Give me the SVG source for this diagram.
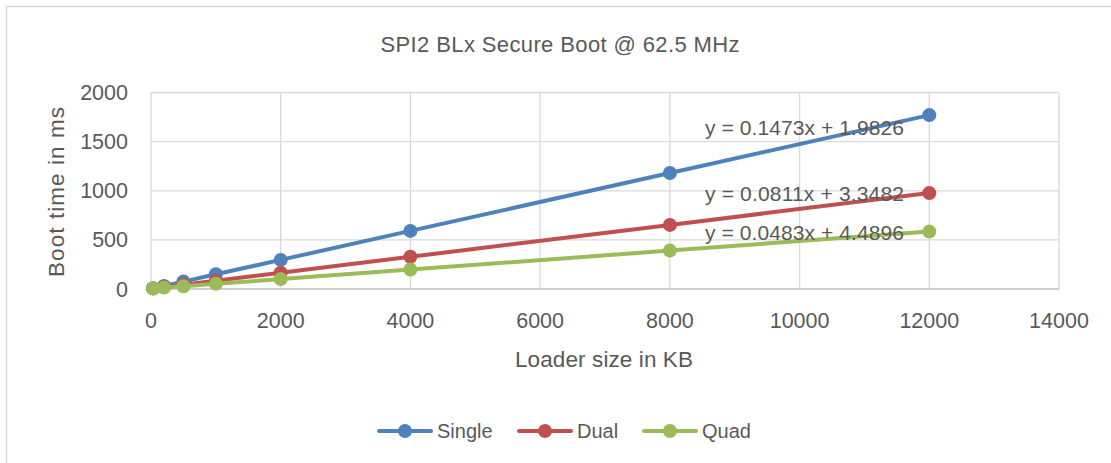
<svg xmlns="http://www.w3.org/2000/svg" width="1111" height="463" viewBox="0 0 1111 463">
  <style>
    .txt { font-family: "Liberation Sans", Arial, sans-serif; fill: #595959; }
    .tick { font-size: 21.5px; }
    .grid { stroke: #D9D9D9; stroke-width: 1.3; fill: none; }
    .axis { stroke: #BFBFBF; stroke-width: 1.5; fill: none; }
    .s-single { stroke: #4F81BD; fill: #4F81BD; }
    .s-dual { stroke: #C0504D; fill: #C0504D; }
    .s-quad { stroke: #9BBB59; fill: #9BBB59; }
    .line { stroke-width: 4; fill: none; stroke-linejoin: round; stroke-linecap: round; }
    .mk { stroke: none; }
  </style>
  <rect x="0" y="0" width="1111" height="463" fill="#FFFFFF"/>
  <!-- chart frame -->
  <rect x="6.5" y="6.5" width="1300" height="600" fill="none" stroke="#D9D9D9" stroke-width="1.5"/>

  <!-- title -->
  <text class="txt" x="560" y="52" font-size="22" text-anchor="middle" textLength="359">SPI2 BLx Secure Boot @ 62.5 MHz</text>

  <!-- gridlines -->
  <g id="gridlines">
    <line class="grid" x1="151" y1="92.5" x2="1059" y2="92.5"/>
    <line class="grid" x1="151" y1="141.6" x2="1059" y2="141.6"/>
    <line class="grid" x1="151" y1="190.8" x2="1059" y2="190.8"/>
    <line class="grid" x1="151" y1="239.9" x2="1059" y2="239.9"/>
    <line class="grid" x1="151" y1="92.5" x2="151" y2="289"/>
    <line class="grid" x1="280.7" y1="92.5" x2="280.7" y2="289"/>
    <line class="grid" x1="410.4" y1="92.5" x2="410.4" y2="289"/>
    <line class="grid" x1="540.1" y1="92.5" x2="540.1" y2="289"/>
    <line class="grid" x1="669.9" y1="92.5" x2="669.9" y2="289"/>
    <line class="grid" x1="799.6" y1="92.5" x2="799.6" y2="289"/>
    <line class="grid" x1="929.3" y1="92.5" x2="929.3" y2="289"/>
    <line class="grid" x1="1059" y1="92.5" x2="1059" y2="289"/>
    <line class="axis" x1="151" y1="289" x2="1059" y2="289"/>
  </g>

  <!-- axis tick labels -->
  <g id="y-ticks" class="txt tick" text-anchor="end">
    <text x="128" y="100">2000</text>
    <text x="128" y="149.1">1500</text>
    <text x="128" y="198.3">1000</text>
    <text x="128" y="247.4">500</text>
    <text x="128" y="296.5">0</text>
  </g>
  <g id="x-ticks" class="txt tick" text-anchor="middle">
    <text x="151" y="327.5">0</text>
    <text x="280.7" y="327.5">2000</text>
    <text x="410.4" y="327.5">4000</text>
    <text x="540.1" y="327.5">6000</text>
    <text x="669.9" y="327.5">8000</text>
    <text x="799.6" y="327.5">10000</text>
    <text x="929.3" y="327.5">12000</text>
    <text x="1059" y="327.5">14000</text>
  </g>

  <!-- axis titles -->
  <text class="txt" x="604" y="367" font-size="22.5" text-anchor="middle" textLength="178">Loader size in KB</text>
  <text class="txt" transform="translate(63.5,192) rotate(-90)" font-size="22.5" text-anchor="middle" textLength="170">Boot time in ms</text>

  <!-- data series -->
  <g id="series">
    <g id="single" class="s-single">
      <polyline class="line" points="153.1,288.3 164,285.9 183.4,281.6 215.9,274.3 280.7,259.9 410.4,230.9 669.9,173 929.3,115.1"/>
      <g class="mk">
        <circle cx="153.1" cy="288.3" r="7"/>
        <circle cx="164" cy="285.9" r="7"/>
        <circle cx="183.4" cy="281.6" r="7"/>
        <circle cx="215.9" cy="274.3" r="7"/>
        <circle cx="280.7" cy="259.9" r="7"/>
        <circle cx="410.4" cy="230.9" r="7"/>
        <circle cx="669.9" cy="173" r="7"/>
        <circle cx="929.3" cy="115.1" r="7"/>
      </g>
    </g>
    <g id="dual" class="s-dual">
      <polyline class="line" points="153.1,288.4 164,287.1 183.4,284.7 215.9,280.7 280.7,272.7 410.4,256.8 669.9,224.9 929.3,193.1"/>
      <g class="mk">
        <circle cx="153.1" cy="288.4" r="7"/>
        <circle cx="164" cy="287.1" r="7"/>
        <circle cx="183.4" cy="284.7" r="7"/>
        <circle cx="215.9" cy="280.7" r="7"/>
        <circle cx="280.7" cy="272.7" r="7"/>
        <circle cx="410.4" cy="256.8" r="7"/>
        <circle cx="669.9" cy="224.9" r="7"/>
        <circle cx="929.3" cy="193.1" r="7"/>
      </g>
    </g>
    <g id="quad" class="s-quad">
      <polyline class="line" points="153.1,288.4 164,287.6 183.4,286.2 215.9,283.8 280.7,279.1 410.4,269.6 669.9,250.6 929.3,231.6"/>
      <g class="mk">
        <circle cx="153.1" cy="288.4" r="7"/>
        <circle cx="164" cy="287.6" r="7"/>
        <circle cx="183.4" cy="286.2" r="7"/>
        <circle cx="215.9" cy="283.8" r="7"/>
        <circle cx="280.7" cy="279.1" r="7"/>
        <circle cx="410.4" cy="269.6" r="7"/>
        <circle cx="669.9" cy="250.6" r="7"/>
        <circle cx="929.3" cy="231.6" r="7"/>
      </g>
    </g>
  </g>

  <!-- trendline equations -->
  <g id="equations" class="txt" font-size="21">
    <text x="705" y="135" textLength="199">y = 0.1473x + 1.9826</text>
    <text x="705" y="201" textLength="199">y = 0.0811x + 3.3482</text>
    <text x="705" y="239.5" textLength="199">y = 0.0483x + 4.4896</text>
  </g>

  <!-- legend -->
  <g id="legend">
    <g id="legend-single" class="s-single">
      <line class="line" x1="379" y1="431" x2="431" y2="431"/>
      <circle class="mk" cx="405" cy="431" r="7"/>
      <text class="txt" x="437" y="438" font-size="20" stroke="none">Single</text>
    </g>
    <g id="legend-dual" class="s-dual">
      <line class="line" x1="519" y1="431" x2="571" y2="431"/>
      <circle class="mk" cx="545" cy="431" r="7"/>
      <text class="txt" x="577" y="438" font-size="20" stroke="none">Dual</text>
    </g>
    <g id="legend-quad" class="s-quad">
      <line class="line" x1="644" y1="431" x2="696" y2="431"/>
      <circle class="mk" cx="670" cy="431" r="7"/>
      <text class="txt" x="702" y="438" font-size="20" stroke="none">Quad</text>
    </g>
  </g>
</svg>
